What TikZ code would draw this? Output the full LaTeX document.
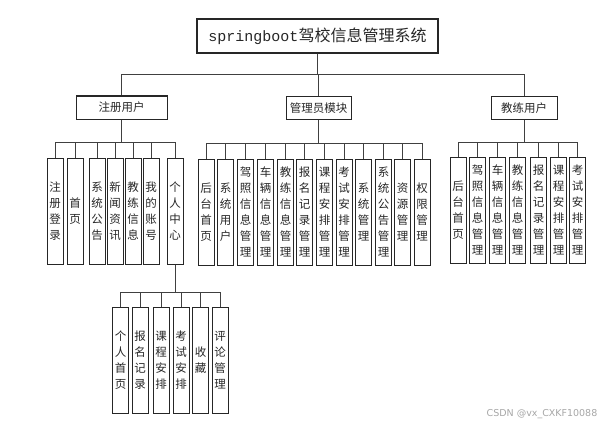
\documentclass[tikz,border=0pt]{standalone}
\usepackage{fontspec}
\newfontfamily\cjk{Noto Sans CJK SC}
\newfontfamily\monof{Liberation Mono}
\begin{document}
\begin{tikzpicture}[x=1pt,y=-1pt,
  vbox/.style={draw=black!85, line width=1pt, minimum width=16pt, minimum height=106pt, inner sep=0pt, align=center, text=black!85, font=\cjk\fontsize{11.5}{16}\selectfont},
  mbox/.style={draw=black!85, line width=1pt, minimum height=23pt, inner sep=0pt, text=black!85, font=\cjk\fontsize{11.5}{14}\selectfont},
  conn/.style={draw=black!75, line width=0.9pt}]
\useasboundingbox (0,0) rectangle (608,428);
% title
\node[draw=black!85, line width=1.1pt, minimum width=241pt, minimum height=34pt, inner sep=0pt, text=black!85] (title) at (317.5,36)
  {{\monof\fontsize{15}{18}\selectfont springboot}{\cjk\fontsize{16}{18}\selectfont 驾校信息管理系统}};
% second level
\node[mbox, minimum width=91pt] (reg) at (121.5,107.5) {注册用户};
\node[mbox, minimum width=65pt] (admin) at (318.5,108) {管理员模块};
\node[mbox, minimum width=66pt] (coach) at (524,108) {教练用户};
% bus coordinates
\coordinate (topbus) at (0,74);
\coordinate (busR) at (0,142);
\coordinate (busA) at (0,143);
\coordinate (busC) at (0,142);
\coordinate (busP) at (0,292);
% registered user children
\node[vbox] (r1) at (55,211) {注\\册\\登\\录};
\node[vbox] (r2) at (75,211) {首\\页};
\node[vbox] (r3) at (97,211) {系\\统\\公\\告};
\node[vbox] (r4) at (115,211) {新\\闻\\资\\讯};
\node[vbox] (r5) at (133,211) {教\\练\\信\\息};
\node[vbox] (r6) at (151,211) {我\\的\\账\\号};
\node[vbox] (r7) at (175,211) {个\\人\\中\\心};
% admin children
\node[vbox] (a1) at (206,212) {后\\台\\首\\页};
\node[vbox] (a2) at (225.5,212) {系\\统\\用\\户};
\node[vbox] (a3) at (245.5,212) {驾\\照\\信\\息\\管\\理};
\node[vbox] (a4) at (265.5,212) {车\\辆\\信\\息\\管\\理};
\node[vbox] (a5) at (285.5,212) {教\\练\\信\\息\\管\\理};
\node[vbox] (a6) at (304.5,212) {报\\名\\记\\录\\管\\理};
\node[vbox] (a7) at (324.5,212) {课\\程\\安\\排\\管\\理};
\node[vbox] (a8) at (344,212) {考\\试\\安\\排\\管\\理};
\node[vbox] (a9) at (363.5,212) {系\\统\\管\\理};
\node[vbox] (a10) at (383.5,212) {系\\统\\公\\告\\管\\理};
\node[vbox] (a11) at (402.5,212) {资\\源\\管\\理};
\node[vbox] (a12) at (422,212) {权\\限\\管\\理};
% coach children
\node[vbox] (c1) at (458,210) {后\\台\\首\\页};
\node[vbox] (c2) at (477.5,210) {驾\\照\\信\\息\\管\\理};
\node[vbox] (c3) at (497.5,210) {车\\辆\\信\\息\\管\\理};
\node[vbox] (c4) at (517.5,210) {教\\练\\信\\息\\管\\理};
\node[vbox] (c5) at (538.5,210) {报\\名\\记\\录\\管\\理};
\node[vbox] (c6) at (558.5,210) {课\\程\\安\\排\\管\\理};
\node[vbox] (c7) at (577.5,210) {考\\试\\安\\排\\管\\理};
% personal center children
\node[vbox] (p1) at (120.5,360) {个\\人\\首\\页};
\node[vbox] (p2) at (140,360) {报\\名\\记\\录};
\node[vbox] (p3) at (161,360) {课\\程\\安\\排};
\node[vbox] (p4) at (181,360) {考\\试\\安\\排};
\node[vbox] (p5) at (200.5,360) {收\\藏};
\node[vbox] (p6) at (220,360) {评\\论\\管\\理};
% connectors
\foreach \n in {reg,admin,coach}
  \draw[conn] (title.south) -- (title.south |- topbus) -| (\n.north);
\foreach \n in {r1,r2,r3,r4,r5,r6,r7}
  \draw[conn] (reg.south) -- (reg.south |- busR) -| (\n.north);
\foreach \n in {a1,a2,a3,a4,a5,a6,a7,a8,a9,a10,a11,a12}
  \draw[conn] (admin.south) -- (admin.south |- busA) -| (\n.north);
\foreach \n in {c1,c2,c3,c4,c5,c6,c7}
  \draw[conn] (coach.south) -- (coach.south |- busC) -| (\n.north);
\foreach \n in {p1,p2,p3,p4,p5,p6}
  \draw[conn] (r7.south) -- (r7.south |- busP) -| (\n.north);
% watermark
\node[text=black!35, font=\fontspec{DejaVu Sans}\fontsize{9.5}{11}\selectfont, inner sep=0pt] (wm) at (542,414) {CSDN @vx\_CXKF10088};
\end{tikzpicture}
\end{document}
